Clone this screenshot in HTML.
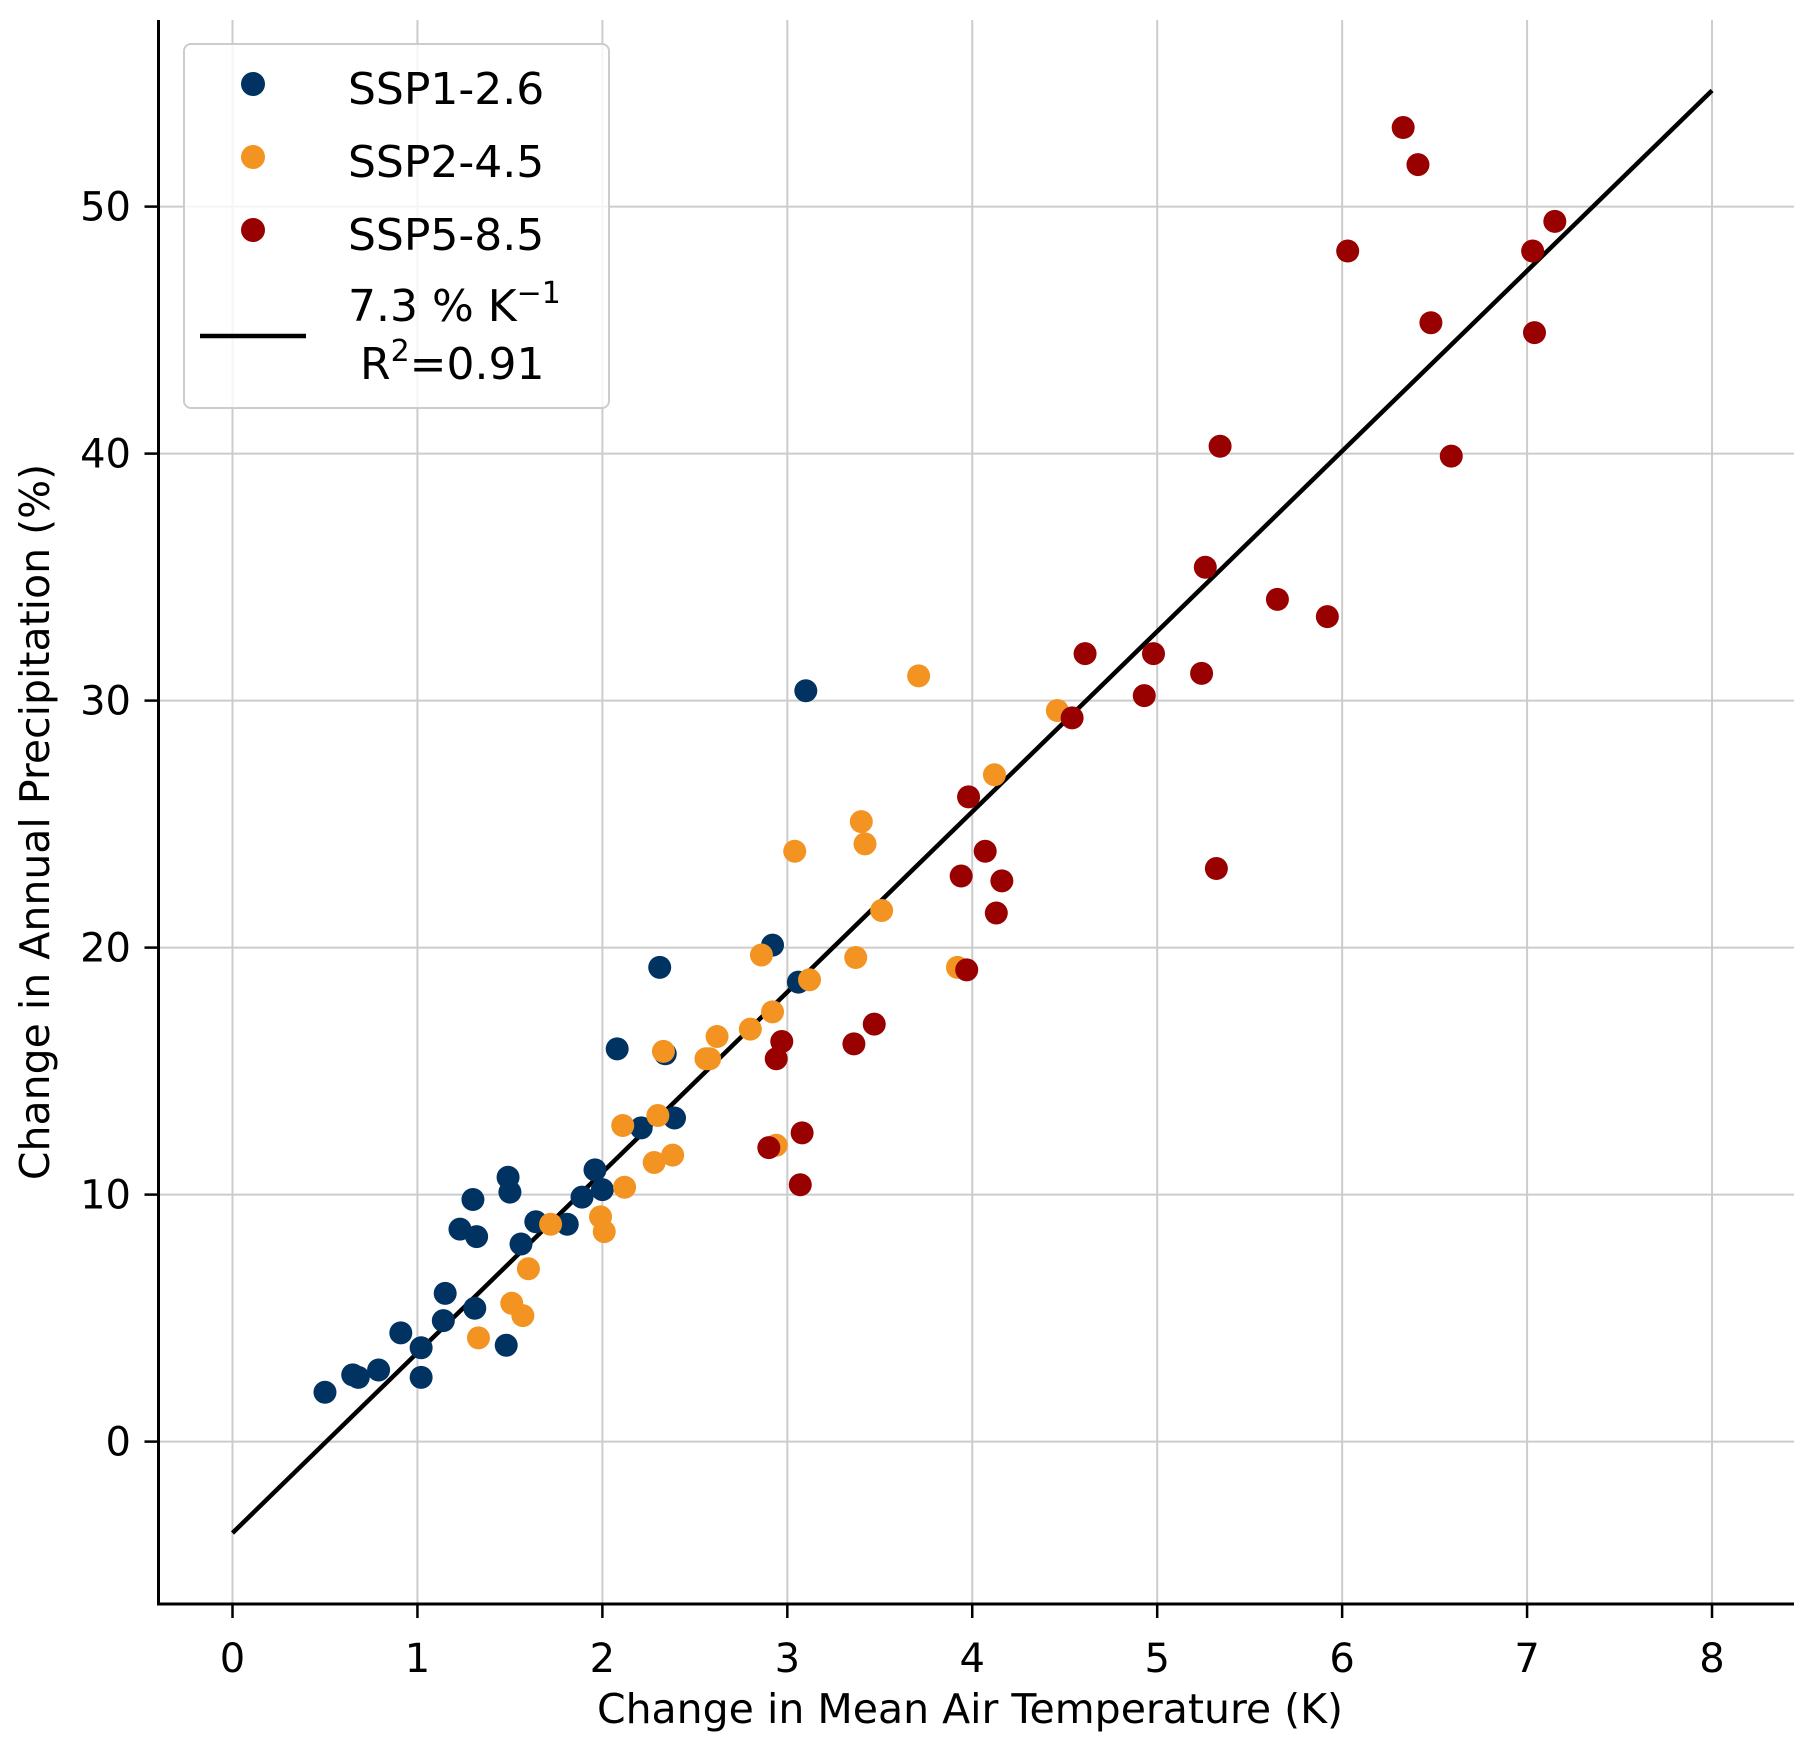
<!DOCTYPE html>
<html><head><meta charset="utf-8">
<style>
html,body{margin:0;padding:0;background:#fff;}
svg{display:block;font-family:"DejaVu Sans","Liberation Sans",sans-serif;}
</style></head>
<body>
<svg id="chart" width="1806" height="1748" viewBox="0 0 1806 1748" xmlns="http://www.w3.org/2000/svg">
<g id="grid"></g>
<g id="fitg"></g>
<g id="pts"></g>
<g id="axes"></g>
<text x="970" y="1723" font-size="41" text-anchor="middle">Change in Mean Air Temperature (K)</text>
<text transform="translate(49,822) rotate(-90)" font-size="41" text-anchor="middle">Change in Annual Precipitation (%)</text>
<g>
<rect x="184" y="44" width="425" height="364" rx="7" fill="#fff" fill-opacity="0.8" stroke="#cccccc" stroke-width="2"/>
<circle cx="253" cy="84" r="12" fill="#003262"/>
<text x="348" y="104" font-size="44">SSP1-2.6</text>
<circle cx="253" cy="157" r="12" fill="#f39322"/>
<text x="348" y="177" font-size="44">SSP2-4.5</text>
<circle cx="253" cy="230" r="12" fill="#990000"/>
<text x="348" y="250" font-size="44">SSP5-8.5</text>
<line x1="200" y1="336" x2="306" y2="336" stroke="#000" stroke-width="4.5"/>
<text x="348" y="321" font-size="44">7.3 % K<tspan dy="-18" font-size="30">−1</tspan></text>
<text x="360" y="379" font-size="44">R<tspan dy="-18" font-size="30">2</tspan><tspan dy="18">=0.91</tspan></text>
</g>
</svg>
<script>
const xTicks=[0,1,2,3,4,5,6,7,8];
const yTicks=[0,10,20,30,40,50];
const ssp1X=[0.5,0.65,0.68,0.79,0.91,1.02,1.02,1.14,1.15,1.23,1.30,1.32,1.31,1.48,1.49,1.50,1.56,1.64,1.81,1.89,1.96,2.00,2.08,2.21,2.31,2.34,2.39,2.92,3.06,3.10];
const ssp1Y=[2.0,2.7,2.6,2.9,4.4,3.8,2.6,4.9,6.0,8.6,9.8,8.3,5.4,3.9,10.7,10.1,8.0,8.9,8.8,9.9,11.0,10.2,15.9,12.7,19.2,15.7,13.1,20.1,18.6,30.4];
const ssp2X=[1.33,1.51,1.57,1.60,1.72,1.99,2.01,2.11,2.12,2.28,2.30,2.33,2.38,2.56,2.58,2.62,2.80,2.86,2.92,2.94,3.04,3.12,3.37,3.40,3.42,3.51,3.71,3.92,4.12,4.46];
const ssp2Y=[4.2,5.6,5.1,7.0,8.8,9.1,8.5,12.8,10.3,11.3,13.2,15.8,11.6,15.5,15.5,16.4,16.7,19.7,17.4,12.0,23.9,18.7,19.6,25.1,24.2,21.5,31.0,19.2,27.0,29.6];
const ssp5X=[2.90,2.94,2.97,3.07,3.08,3.36,3.47,3.94,3.97,3.98,4.07,4.13,4.16,4.54,4.61,4.93,4.98,5.24,5.26,5.32,5.34,5.65,5.92,6.03,6.33,6.41,6.48,6.59,7.03,7.04,7.15];
const ssp5Y=[11.9,15.5,16.2,10.4,12.5,16.1,16.9,22.9,19.1,26.1,23.9,21.4,22.7,29.3,31.9,30.2,31.9,31.1,35.4,23.2,40.3,34.1,33.4,48.2,53.2,51.7,45.3,39.9,48.2,44.9,49.4];
const fitSlope=7.3;
const fitIntercept=-3.7;
const fitRange=[0,8];

const NS="http://www.w3.org/2000/svg";
const X0=158.5,X1=1794,Y0=1604,Y1=20;
const sx=v=>232.5+v*184.94;
const sy=v=>1441.6-v*24.70;
function mk(tag,attrs,parent){const e=document.createElementNS(NS,tag);for(const k in attrs)e.setAttribute(k,attrs[k]);parent.appendChild(e);return e;}
const grid=document.getElementById('grid'),axes=document.getElementById('axes');
xTicks.forEach(t=>{
  const g=mk('line',{x1:sx(t),x2:sx(t),y1:Y1,y2:Y0,stroke:'#cccccc','stroke-width':2},grid);
  
  
  const tk=mk('line',{x1:sx(t),x2:sx(t),y1:Y0,y2:Y0+14,stroke:'#000','stroke-width':2.5},axes);
  
  
  const lb=mk('text',{x:sx(t),y:1672,'font-size':40,'text-anchor':'middle'},axes);
  lb.textContent=t;
  
  
});
yTicks.forEach(t=>{
  const g=mk('line',{x1:X0,x2:X1,y1:sy(t),y2:sy(t),stroke:'#cccccc','stroke-width':2},grid);
  
  
  const tk=mk('line',{x1:X0-14,x2:X0,y1:sy(t),y2:sy(t),stroke:'#000','stroke-width':2.5},axes);
  
  
  const lb=mk('text',{x:131,y:sy(t)+14,'font-size':40,'text-anchor':'end'},axes);
  lb.textContent=t;
  
  
});
const sp1=mk('line',{x1:X0,x2:X0,y1:Y1,y2:Y0+1.5,stroke:'#000','stroke-width':3},axes);


const sp2=mk('line',{x1:X0-1.5,x2:X1,y1:Y0,y2:Y0,stroke:'#000','stroke-width':3},axes);


const fl=mk('line',{x1:sx(fitRange[0]),y1:sy(fitIntercept+fitSlope*fitRange[0]),x2:sx(fitRange[1]),y2:sy(fitIntercept+fitSlope*fitRange[1]),stroke:'#000','stroke-width':4.5},document.getElementById('fitg'));


const pts=document.getElementById('pts');
[[ssp1X,ssp1Y,'#003262','ssp1'],[ssp2X,ssp2Y,'#f39322','ssp2'],[ssp5X,ssp5Y,'#990000','ssp5']].forEach(([xs,ys,c,n])=>{
  xs.forEach((x,i)=>{
    const p=mk('circle',{cx:sx(x),cy:sy(ys[i]),r:11.5,fill:c},pts);
    
    
  });
});
</script>
</body></html>
